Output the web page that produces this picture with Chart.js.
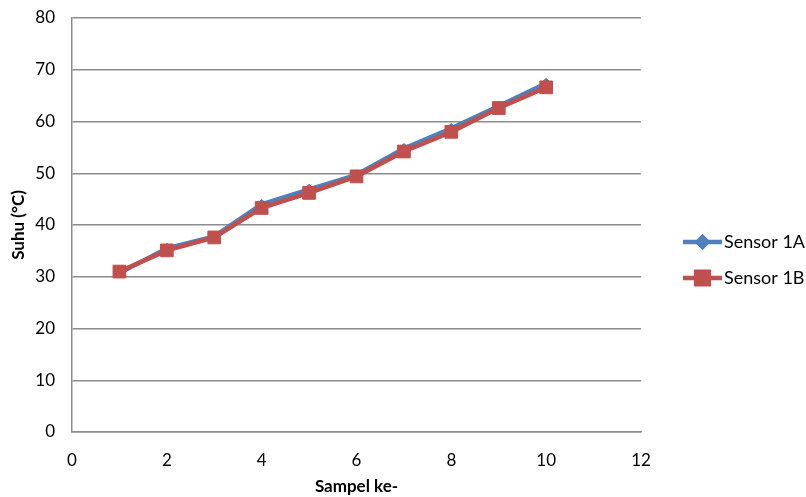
<!DOCTYPE html>
<html lang="en">
<head>
    <meta charset="UTF-8">
    <title>Suhu Sensor 1A dan 1B</title>
    <script src="https://cdn.jsdelivr.net/npm/chart.js"></script>
    <style>
        body {
            margin: 0;
            background: #ffffff;
        }
        .chart-box {
            width: 806px;
            height: 497px;
        }
    </style>
</head>
<body>

    <div class="chart-box">
        <canvas id="suhuChart" width="806" height="497"></canvas>
    </div>

    <script>
        // Data
        const sampel = [1, 2, 3, 4, 5, 6, 7, 8, 9, 10];
        const sensor1A = [30.7, 35.5, 37.8, 44.0, 46.9, 49.7, 54.8, 58.7, 63.0, 67.4];
        const sensor1B = [31.0, 35.1, 37.6, 43.3, 46.2, 49.4, 54.2, 58.0, 62.6, 66.6];
        const xTicks = [0, 2, 4, 6, 8, 10, 12];
        const yTicks = [0, 10, 20, 30, 40, 50, 60, 70, 80];

        const blue = '#4F81BD';
        const red = '#C0504D';
        const gridColor = '#8c8c8c';
        const fontFamily = 'Lato, "Open Sans", sans-serif';

        function toPoints(values) {
            return sampel.map((x, i) => ({ x: x, y: values[i] }));
        }

        // Legend on the right: line with marker, like the original
        const sideLegend = {
            id: 'sideLegend',
            afterDraw(chart) {
                const ctx = chart.ctx;
                const area = chart.chartArea;
                const items = chart.data.datasets;
                ctx.save();
                items.forEach((ds, i) => {
                    const x0 = area.right + 42;
                    const y = area.top + 224 + i * 36;
                    ctx.strokeStyle = ds.borderColor;
                    ctx.lineWidth = 4.5;
                    ctx.beginPath();
                    ctx.moveTo(x0, y);
                    ctx.lineTo(x0 + 39, y);
                    ctx.stroke();
                    Chart.helpers.drawPoint(ctx, {
                        pointStyle: ds.pointStyle,
                        radius: ds.pointStyle === 'rect' ? 9 : 5,
                        rotation: 0,
                        borderWidth: 1
                    }, x0 + 19.5, y);
                    ctx.fillStyle = ds.backgroundColor;
                    ctx.fill();
                    ctx.fillStyle = '#000000';
                    ctx.font = '18px ' + fontFamily;
                    ctx.textAlign = 'left';
                    ctx.textBaseline = 'middle';
                    ctx.fillText(ds.label, x0 + 41, y);
                });
                ctx.restore();
            }
        };

        let ctx = document.getElementById('suhuChart').getContext('2d');

        let suhuChart = new Chart(ctx, {
            type: 'line',
            data: {
                datasets: [{
                    label: 'Sensor 1A',
                    data: toPoints(sensor1A),
                    borderColor: blue,
                    backgroundColor: blue,
                    borderWidth: 4.5,
                    pointStyle: 'rectRot',
                    pointRadius: 5,
                    pointBorderWidth: 1,
                    tension: 0,
                    order: 2
                }, {
                    label: 'Sensor 1B',
                    data: toPoints(sensor1B),
                    borderColor: red,
                    backgroundColor: red,
                    borderWidth: 4.5,
                    pointStyle: 'rect',
                    pointRadius: 9,
                    pointBorderWidth: 1,
                    tension: 0,
                    order: 1
                }]
            },
            options: {
                responsive: false,
                animation: false,
                layout: {
                    padding: { left: 0, right: 165, top: 18, bottom: 0 }
                },
                plugins: {
                    legend: { display: false },
                    tooltip: { enabled: false }
                },
                scales: {
                    x: {
                        type: 'linear',
                        min: 0,
                        max: 12,
                        afterBuildTicks: (axis) => {
                            axis.ticks = xTicks.map(v => ({ value: v }));
                        },
                        afterFit: (axis) => {
                            axis.height = 65;
                            axis.paddingLeft = 0;
                            axis.paddingRight = 0;
                        },
                        grid: { display: false, drawTicks: false },
                        border: { display: true, color: gridColor, width: 1.5 },
                        ticks: {
                            color: '#000000',
                            padding: 18,
                            maxRotation: 0,
                            font: { family: fontFamily, size: 17 }
                        },
                        title: {
                            display: true,
                            text: 'Sampel ke-',
                            color: '#000000',
                            padding: { top: 0, bottom: 0 },
                            font: { family: fontFamily, size: 17, weight: 'bold' }
                        }
                    },
                    y: {
                        min: 0,
                        max: 80,
                        afterBuildTicks: (axis) => {
                            axis.ticks = yTicks.map(v => ({ value: v }));
                        },
                        afterFit: (axis) => {
                            axis.width = 72;
                            axis.paddingTop = 0;
                            axis.paddingBottom = 0;
                        },
                        grid: { color: gridColor, lineWidth: 1.5, drawTicks: false },
                        border: { display: true, color: gridColor, width: 1.5 },
                        ticks: {
                            color: '#000000',
                            padding: 17,
                            font: { family: fontFamily, size: 17 }
                        },
                        title: {
                            display: true,
                            text: 'Suhu (°C)',
                            color: '#000000',
                            padding: { top: 8, bottom: 0 },
                            font: { family: fontFamily, size: 17, weight: 'bold' }
                        }
                    }
                }
            },
            plugins: [sideLegend]
        });
    </script>

</body>
</html>
